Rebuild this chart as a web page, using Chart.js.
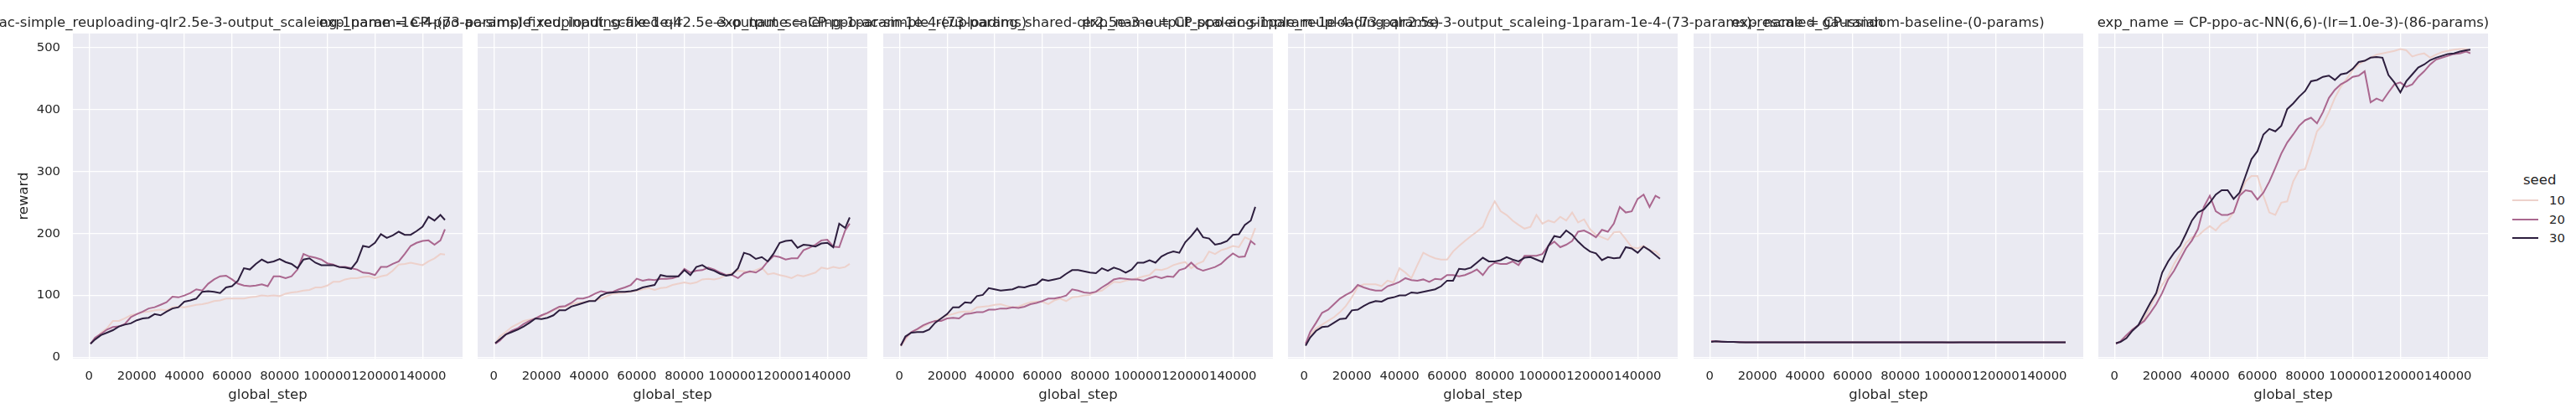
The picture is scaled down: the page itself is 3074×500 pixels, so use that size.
<!DOCTYPE html>
<html>
<head>
<meta charset="utf-8">
<script src="https://cdn.jsdelivr.net/npm/chart.js@4.4.1/dist/chart.umd.min.js"></script>
<style>
  html, body { margin: 0; padding: 0; background: #fff; }
  #fig { position: relative; width: 3074px; height: 500px; overflow: hidden; font-family: 'DejaVu Sans', sans-serif; color: #262626; }
  #fig canvas { position: absolute; top: 0; }
  .facet-title { position: absolute; top: 17px; height: 20px; line-height: 20px; font-size: 16.5px; white-space: nowrap; transform: translateX(-50%); }
  .leg-title { position: absolute; font-size: 16.5px; line-height: 20px; white-space: nowrap; }
  .leg-line { position: absolute; height: 0; border-top-style: solid; }
  .leg-text { position: absolute; font-size: 14.8px; line-height: 18px; white-space: nowrap; }
</style>
</head>
<body>
<div id="fig"></div>
<script>
// global_step de cada punto (compartido por todas las series)
const steps = [600];
for (let i = 1; i <= 59; i++) steps.push(i * 2500);
steps.push(149400);

const xTicks = [0, 20000, 40000, 60000, 80000, 100000, 120000, 140000];
const yTicks = [0, 100, 200, 300, 400, 500];

const seeds = ['10', '20', '30'];
const seedColors = ['#edd1cb', '#aa678f', '#2d1e3e'];

const titles = [
    'exp_name = CP-ppo-ac-simple_reuploading-qlr2.5e-3-output_scaleing-1param-1e-4-(73-params)-fixed_input_scale-1e-4',
    'exp_name = CP-ppo-ac-simple_reuploading-fixed-qlr2.5e-3-output_scaleing-1param-1e-4-(73-params)',
    'exp_name = CP-ppo-ac-simple_reuploading_shared-qlr2.5e-3-output_scaleing-1param-1e-4-(73-params)',
    'exp_name = CP-ppo-ac-simple_reuploading-qlr2.5e-3-output_scaleing-1param-1e-4-(73-params)-rescaled_gaussian',
    'exp_name = CP-random-baseline-(0-params)',
    'exp_name = CP-ppo-ac-NN(6,6)-(lr=1.0e-3)-(86-params)'
];

// reward por panel y seed
const p1_seed10 = [23,29,40,47,59,59,63,68,70,73, 74,76,77,76,81,82,81,83,85,86, 88,91,92,95,95,95,95,97,98,100, 99,100,99,103,105,106,108,109,113,113, 116,122,122,126,128,128,130,131,128,131, 133,140,150,151,153,151,149,155,160,167, 166];
const p1_seed20 = [22,32,38,45,49,50,54,65,70,74, 79,81,85,89,98,97,100,104,110,108, 119,126,131,132,126,119,116,115,116,118, 115,131,131,128,131,142,167,163,161,158, 152,150,146,146,144,142,137,136,133,146, 146,151,155,167,180,185,188,189,182,189, 207];
const p1_seed30 = [22,29,36,40,44,50,53,55,60,63, 64,70,68,74,79,81,90,92,95,106, 107,106,104,113,115,124,144,142,151,158, 153,155,159,154,151,144,158,160,153,149, 149,149,146,145,143,155,180,178,185,199, 193,197,203,198,198,204,211,227,221,230, 222];

const p2_seed10 = [23,34,41,49,54,59,61,63,67,71, 76,80,82,86,88,89,91,92,95,99, 103,104,105,106,108,110,112,109,112,113, 117,119,121,119,121,126,127,126,128,133, 136,140,139,137,141,145,134,136,133,131, 128,133,131,134,137,145,143,146,144,146, 151];
const p2_seed20 = [22,27,37,43,47,54,59,63,68,72, 77,82,83,88,95,95,98,103,107,105, 106,110,113,117,127,124,126,125,127,127, 128,131,143,137,140,141,145,142,137,133, 133,128,136,139,137,143,155,164,162,158, 160,160,173,177,182,189,190,179,178,205, 216];
const p2_seed30 = [23,29,37,41,45,50,56,63,62,64, 68,76,76,82,85,88,91,91,100,104, 105,106,106,107,109,113,115,117,133,131, 131,131,141,133,146,149,143,140,135,132, 134,144,169,166,159,162,155,168,185,188, 189,177,182,181,179,184,185,178,216,209, 226];

const p3_seed10 = [18,29,41,45,50,55,59,63,68,70, 73,74,74,81,82,83,85,86,83,81, 82,86,89,90,90,86,92,95,91,97, 98,100,101,106,108,115,122,121,124,126, 128,131,133,142,141,144,149,152,154,144, 151,155,171,167,173,176,180,178,194,190, 209];
const p3_seed20 = [20,32,41,46,52,56,59,59,63,64, 63,70,71,73,73,77,77,79,79,81, 80,82,86,88,91,95,95,97,100,110, 108,105,104,106,113,119,126,128,127,126, 126,124,128,131,128,131,130,141,144,153, 144,140,143,146,151,160,168,162,163,188, 182];
const p3_seed30 = [19,34,40,41,41,45,56,63,70,81, 81,89,88,99,101,112,110,108,109,110, 114,113,116,118,126,124,126,128,135,141, 141,139,137,136,144,140,145,142,137,142, 153,153,157,153,163,168,171,169,186,196, 208,194,192,182,184,188,198,199,214,221, 243];

const p4_seed10 = [22,36,47,53,59,65,73,83,97,114, 118,118,118,115,124,121,144,137,128,149, 169,164,160,158,158,171,180,188,196,203, 211,234,252,236,230,221,214,208,211,230, 216,221,218,227,221,234,218,223,207,198, 194,190,202,203,191,178,176,180,173,171, 164];
const p4_seed20 = [22,41,56,72,77,86,95,101,106,117, 113,110,108,108,115,118,122,128,125,124, 126,122,127,126,133,133,131,133,137,142, 133,146,153,151,151,155,149,164,164,164, 167,180,187,178,182,188,203,205,200,194, 206,203,216,243,234,236,256,263,243,261, 257];
const p4_seed30 = [19,32,43,49,50,56,62,63,76,77, 83,88,91,90,95,97,100,100,105,104, 106,108,110,115,124,124,143,142,145,153, 161,155,155,157,162,158,155,161,162,158, 154,180,196,194,205,198,187,178,171,168, 157,162,160,161,178,176,169,179,173,165, 159];

const p5_seed10 = [26,25.5,25,25,25,24.5,24.5,24.5,24.5,24.5, 24.5,24.5,24,24,24,24.5,24.5,24.5,24.5,24.5, 24.5,24.5,24.5,24.5,24.5,24.5,24,24,24.5,24.5, 24.5,24.5,24.5,24.5,24.5,24.5,24.5,24,24,24.5, 24.5,24.5,24.5,24.5,24.5,24.5,24.5,24.5,24.5,24.5, 24.5,24.5,24.5,24.5,25,24.5,24.5,24.5,24.5,24.5, 24.5];
const p5_seed20 = [26.5,26,25.5,25,25,25,24.5,24.5,24.5,24.5, 24.5,24.5,24.5,24.5,24.5,24.5,24.5,24.5,24.5,24.5, 24.5,24.5,24.5,24.5,24.5,24.5,24.5,24.5,24.5,24.5, 24.5,24.5,24.5,24.5,24.5,24.5,24.5,24.5,24.5,24.5, 24,24,24.5,24.5,24.5,24.5,24.5,24.5,24.5,24.5, 24.5,24.5,24.5,24.5,24.5,24.5,24.5,24.5,24.5,24.5, 24.5];
const p5_seed30 = [25,26,25.5,25,25,24.5,24.5,24.5,24.5,24.5, 24.5,24.5,24.5,24.5,24.5,24.5,24.5,24.5,24.5,24.5, 24.5,24.5,24.5,24.5,24.5,24.5,24.5,24.5,24.5,24.5, 24.5,24.5,24.5,24.5,24.5,24.5,24.5,24.5,24.5,24.5, 24.5,24.5,24.5,24.5,24.5,24.5,24.5,24.5,24.5,24.5, 24.5,24.5,24.5,24.5,24.5,24.5,24.5,24.5,24.5,24.5, 24.5];

const p6_seed10 = [23,26,34,45,52,63,81,101,117,131, 151,167,185,194,196,205,212,205,216,221, 234,261,284,293,293,261,234,230,250,252, 284,302,304,333,365,376,396,419,437,450, 464,473,479,484,489,491,493,495,498,496, 486,489,491,484,489,493,495,497,498,498, 495];
const p6_seed20 = [22,26,36,45,52,59,72,86,104,126, 140,158,176,189,207,243,261,236,230,230, 234,261,270,268,255,266,284,306,329,347, 360,374,383,387,378,396,419,432,441,446, 453,455,462,412,418,414,428,441,444,437, 441,453,462,473,481,484,487,490,491,494, 491];
const p6_seed30 = [23,25,31,43,52,70,88,104,137,155, 169,180,200,221,234,239,250,263,270,270, 256,266,293,320,333,360,369,365,374,401, 410,421,430,446,448,453,455,448,457,459, 466,477,479,484,485,484,456,444,428,446, 457,468,473,480,484,487,490,491,494,496, 497];

const panels = [
    [p1_seed10, p1_seed20, p1_seed30],
    [p2_seed10, p2_seed20, p2_seed30],
    [p3_seed10, p3_seed20, p3_seed30],
    [p4_seed10, p4_seed20, p4_seed30],
    [p5_seed10, p5_seed20, p5_seed30],
    [p6_seed10, p6_seed20, p6_seed30]
];

// Geometría de la figura
const FIG_H = 500;
const PANEL_X0 = 87;
const PANEL_STEP = 483.4;
const PANEL_W = 465;
const AXIS_W = 87;
const PAD_R = 4;
const TEXT = '#262626';

Chart.defaults.font.family = "'DejaVu Sans', sans-serif";
Chart.defaults.color = TEXT;

// Fondo gris de seaborn (darkgrid)
const panelBg = {
    id: 'panelBg',
    beforeDraw(chart) {
        const a = chart.chartArea;
        const ctx = chart.ctx;
        ctx.save();
        ctx.fillStyle = '#eaeaf2';
        ctx.fillRect(a.left, a.top, a.right - a.left, a.bottom - a.top);
        ctx.restore();
    }
};

const fig = document.getElementById('fig');

function buildPanel(series, idx) {
    const left = PANEL_X0 + idx * PANEL_STEP;
    const first = idx === 0;

    const canvas = document.createElement('canvas');
    canvas.width = AXIS_W + PANEL_W + PAD_R;
    canvas.height = FIG_H;
    canvas.style.left = (left - AXIS_W) + 'px';
    fig.appendChild(canvas);

    const title = document.createElement('div');
    title.className = 'facet-title';
    title.style.left = (left + PANEL_W / 2) + 'px';
    title.textContent = titles[idx];
    fig.appendChild(title);

    new Chart(canvas, {
        type: 'line',
        data: {
            datasets: series.map((vals, k) => ({
                label: seeds[k],
                data: steps.map((s, j) => ({ x: s, y: vals[j] })),
                borderColor: seedColors[k],
                borderWidth: 2,
                pointRadius: 0,
                tension: 0,
                order: 3 - k
            }))
        },
        options: {
            responsive: false,
            animation: false,
            layout: { padding: { top: 40, right: PAD_R, bottom: 0, left: 0 } },
            plugins: { legend: { display: false }, tooltip: { enabled: false } },
            scales: {
                x: {
                    type: 'linear',
                    min: -6800,
                    max: 156800,
                    afterBuildTicks: s => { s.ticks = xTicks.map(v => ({ value: v })); },
                    afterFit: s => { s.height = 72; },
                    grid: { color: '#ffffff', lineWidth: 1.33, drawTicks: false },
                    border: { display: false },
                    ticks: {
                        autoSkip: false, maxRotation: 0, minRotation: 0, padding: 12,
                        font: { size: 14.8 }, color: TEXT,
                        callback: v => String(v)
                    },
                    title: { display: true, text: 'global_step', font: { size: 16.5 }, color: TEXT, padding: { top: 0, bottom: 18 } }
                },
                y: {
                    type: 'linear',
                    min: -2,
                    max: 523,
                    afterBuildTicks: s => { s.ticks = yTicks.map(v => ({ value: v })); },
                    afterFit: s => { s.width = AXIS_W; },
                    grid: { color: '#ffffff', lineWidth: 1.33, drawTicks: false },
                    border: { display: false },
                    ticks: { display: first, padding: 15, font: { size: 14.8 }, color: TEXT },
                    title: { display: first, text: 'reward', font: { size: 16.5 }, color: TEXT, padding: { top: 19, bottom: 0 } }
                }
            }
        },
        plugins: [panelBg]
    });
}

panels.forEach(buildPanel);

// Leyenda de seed
function buildLegend() {
    const t = document.createElement('div');
    t.className = 'leg-title';
    t.style.left = '3011px';
    t.style.top = '205px';
    t.textContent = 'seed';
    fig.appendChild(t);

    const rowsY = [239, 262, 284];
    seeds.forEach((s, k) => {
        const line = document.createElement('div');
        line.className = 'leg-line';
        line.style.left = '2998px';
        line.style.width = '31px';
        line.style.top = (rowsY[k] - 1) + 'px';
        line.style.borderTopWidth = '2.5px';
        line.style.borderTopColor = seedColors[k];
        fig.appendChild(line);

        const txt = document.createElement('div');
        txt.className = 'leg-text';
        txt.style.left = '3042px';
        txt.style.top = (rowsY[k] - 9) + 'px';
        txt.textContent = s;
        fig.appendChild(txt);
    });
}

buildLegend();
</script>
</body>
</html>
